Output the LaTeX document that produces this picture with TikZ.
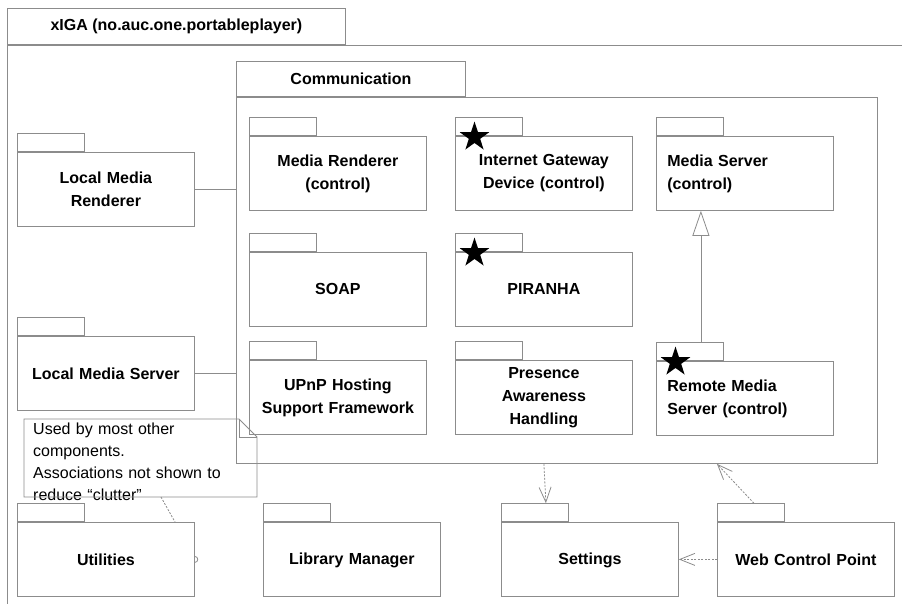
\documentclass[tikz,border=0pt]{standalone}
\usepackage{fontspec}
\setmainfont{Liberation Sans}
\usetikzlibrary{arrows.meta,shapes.geometric}
\definecolor{umlgray}{gray}{0.55}

\tikzset{
    link/.style={draw=umlgray, line width=0.8pt},
    pkg/.style={link, anchor=north west, minimum width=177pt, minimum height=74pt,
        text width=155pt, inner xsep=11pt, align=center,
        font=\fontsize{16}{23}\selectfont\bfseries},
    pkgtab/.style={link, anchor=south west, minimum width=67pt, minimum height=18pt, inner sep=0pt},
    bigtab/.style={link, anchor=south west, minimum height=36pt, inner sep=0pt,
        font=\fontsize{16}{19}\selectfont\bfseries},
    starmark/.style={star, star points=5, star point ratio=2.6, minimum size=31pt, inner sep=0pt, fill=black},
    dep/.style={link, dash pattern=on 2pt off 1.5pt, -{Straight Barb[length=15pt, width=12pt]}},
}

\begin{document}
\begin{tikzpicture}[x=1pt, y=-1pt]
    \clip (0,0) rectangle (902,603);
    \fill[white] (0,0) rectangle (902,603);

    % outer package
    \node[link, anchor=north west, minimum width=1000pt, minimum height=700pt] (xiga) at (7,45) {};
    \node[bigtab, minimum width=338pt] (xiga-tab) at (xiga.north west) {xIGA (no.auc.one.portableplayer)};

    % communication package
    \node[link, anchor=north west, minimum width=641pt, minimum height=366pt] (comm) at (236,97) {};
    \node[bigtab, minimum width=229pt, minimum height=35pt] (comm-tab) at (comm.north west) {Communication};

    \node[pkg] (mr) at (249,136) {Media Renderer\\(control)};
    \node[pkg] (igd) at (455,136) {Internet Gateway\\Device (control)};
    \node[pkg, align=left] (ms) at (656,136) {Media Server\\(control)};
    \node[pkg] (soap) at (249,252) {SOAP};
    \node[pkg] (pir) at (455,252) {PIRANHA};
    \node[pkg] (upnp) at (249,360) {UPnP Hosting\\Support Framework};
    \node[pkg] (pah) at (455,360) {Presence\\Awareness\\Handling};
    \node[pkg, align=left] (rms) at (656,361) {Remote Media\\Server (control)};

    % packages outside communication
    \node[pkg] (lmr) at (17,152) {Local Media\\Renderer};
    \node[pkg] (lms) at (17,336) {Local Media Server};
    \node[pkg] (util) at (17,522) {Utilities};
    \node[pkg] (lib) at (263,522) {\strut Library Manager};
    \node[pkg] (set) at (501,522) {\strut Settings};
    \node[pkg, minimum width=176pt] (wcp) at (717,522) {Web Control Point};

    \foreach \n in {mr,igd,ms,soap,pir,upnp,pah,rms,lmr,lms,util,lib,set,wcp}
        \node[pkgtab] (\n-tab) at (\n.north west) {};
    \foreach \n in {igd,pir,rms}
        \node[starmark] (\n-star) at ([xshift=19.5pt,yshift=-1pt]\n.north west) {};

    % note
    \node[anchor=north west, text width=215pt, inner xsep=9pt, inner ysep=0pt, align=left,
        font=\fontsize{16}{22}\selectfont] (note) at (24,419)
        {\rule{0pt}{15pt}Used by most other\\components.\\Associations not shown to\\reduce “clutter”};
    \coordinate (note-fold) at ([xshift=215pt]note.north west);
    \coordinate (note-se) at ([xshift=233pt,yshift=-78pt]note.north west);
    \draw[link] (note.north west) -- (note-fold) -- ([xshift=18pt,yshift=-18pt]note-fold)
        -- (note-se) -- (note.north west |- note-se) -- cycle;
    \draw[link] (note-fold) -- ([yshift=-18pt]note-fold) -- ([xshift=18pt,yshift=-18pt]note-fold);
    \draw[link, dash pattern=on 2pt off 1.5pt] ([xshift=137pt]note.north west |- note-se) -- ([xshift=158pt]util.north west);
    \draw[link] ([yshift=3pt]util.east) arc[start angle=90, end angle=-90, radius=3pt];

    % connectors
    \draw[link] (lmr.east) -- (lmr.east -| comm.west);
    \draw[link] (lms.east) -- (lms.east -| comm.west);
    \draw[link, -{Triangle[open, length=25pt, width=17pt]}] ([xshift=11pt]rms-tab.north) -- ([xshift=11pt]rms-tab.north |- ms.south);
    \draw[dep] ([xshift=9pt]set-tab.north |- comm.south) -- ([xshift=11pt]set-tab.north);
    \draw[dep] ([xshift=3pt]wcp-tab.north) -- ([xshift=-34pt]wcp-tab.north |- comm.south);
    \draw[dep] (wcp.west) -- (set.east);
\end{tikzpicture}
\end{document}
